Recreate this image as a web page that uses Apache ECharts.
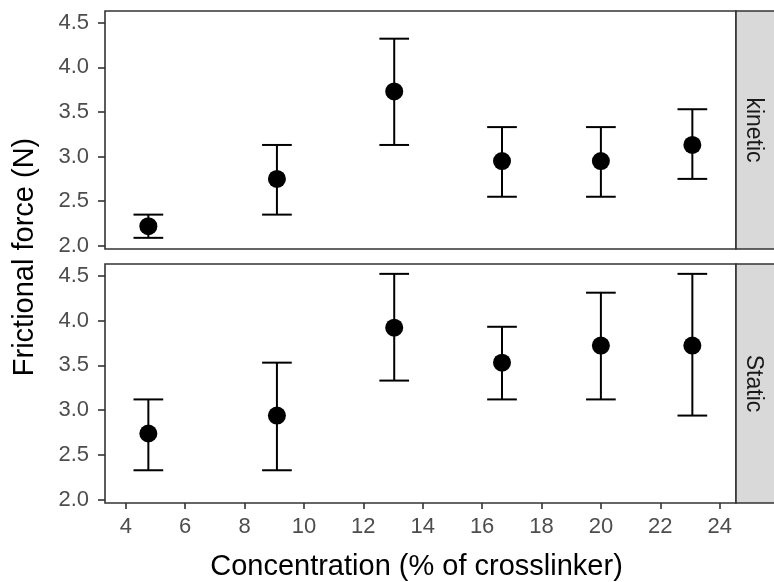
<!DOCTYPE html>
<html>
<head>
<meta charset="utf-8">
<script src="https://cdn.jsdelivr.net/npm/echarts@6/dist/echarts.min.js"></script>
<style>
html,body{margin:0;padding:0;background:#fff;}
#chart{width:774px;height:582px;}
</style>
</head>
<body>
<div id="chart"></div>
<script>
// ---- data ----
var concentration = [4.76, 9.09, 13.04, 16.67, 20.0, 23.08];
var kineticMean  = [2.22, 2.75, 3.73, 2.95, 2.95, 3.13];
var kineticLow   = [2.09, 2.35, 3.13, 2.55, 2.55, 2.75];
var kineticHigh  = [2.35, 3.13, 4.32, 3.33, 3.33, 3.53];
var staticMean   = [2.74, 2.94, 3.92, 3.53, 3.72, 3.72];
var staticLow    = [2.33, 2.33, 3.33, 3.12, 3.12, 2.94];
var staticHigh   = [3.12, 3.53, 4.52, 3.93, 4.31, 4.52];
var xTicks = [4, 6, 8, 10, 12, 14, 16, 18, 20, 22, 24];
var yTicks = [2.0, 2.5, 3.0, 3.5, 4.0, 4.5];
var facetLabels = ['kinetic', 'Static'];
var xTitle = 'Concentration (% of crosslinker)';
var yTitle = 'Frictional force (N)';

// ---- layout ----
var FONT = '"Liberation Sans", Arial, sans-serif';
var panels = [
  {top: 11, height: 238},
  {top: 264, height: 239}
];
var LEFT = 105, PW = 631;

var chart = echarts.init(document.getElementById('chart'));

function pts(xs, ys) { return xs.map(function (x, i) { return [x, ys[i]]; }); }
function bars(xs, lo, hi) { return xs.map(function (x, i) { return [x, lo[i], hi[i]]; }); }

var grids = [], xAxes = [], yAxes = [], series = [], graphics = [];
var means = [kineticMean, staticMean], lows = [kineticLow, staticLow], highs = [kineticHigh, staticHigh];

panels.forEach(function (p, k) {
  grids.push({left: LEFT, top: p.top, width: PW, height: p.height, show: true,
    borderColor: '#333333', borderWidth: 1.6, backgroundColor: '#ffffff', containLabel: false});
  xAxes.push({type: 'value', gridIndex: k, min: 3.3, max: 24.55,
    axisLine: {show: false}, splitLine: {show: false},
    axisTick: {show: k === 1, length: 6, lineStyle: {color: '#333333', width: 1.6}, customValues: xTicks},
    axisLabel: {show: k === 1, margin: 13, color: '#4D4D4D', fontSize: 22, fontFamily: FONT, customValues: xTicks}
  });
  yAxes.push({type: 'value', gridIndex: k, min: 1.965, max: 4.63,
    axisLine: {show: false}, splitLine: {show: false},
    axisTick: {show: true, length: 7, lineStyle: {color: '#333333', width: 1.6}, customValues: yTicks},
    axisLabel: {show: true, margin: 16, color: '#4D4D4D', fontSize: 22, fontFamily: FONT, customValues: yTicks,
      formatter: function (v) { return Number(v).toFixed(1); }}
  });
  series.push({
    type: 'custom', xAxisIndex: k, yAxisIndex: k, z: 2,
    data: bars(concentration, lows[k], highs[k]),
    renderItem: function (params, api) {
      var x = api.value(0), lo = api.value(1), hi = api.value(2);
      var pLo = api.coord([x, lo]), pHi = api.coord([x, hi]);
      var half = api.size([0.5, 0])[0];
      var st = {stroke: '#000', lineWidth: 2};
      return {type: 'group', children: [
        {type: 'line', shape: {x1: pLo[0], y1: pLo[1], x2: pHi[0], y2: pHi[1]}, style: st},
        {type: 'line', shape: {x1: pLo[0] - half, y1: pLo[1], x2: pLo[0] + half, y2: pLo[1]}, style: st},
        {type: 'line', shape: {x1: pHi[0] - half, y1: pHi[1], x2: pHi[0] + half, y2: pHi[1]}, style: st}
      ]};
    }
  });
  series.push({type: 'scatter', xAxisIndex: k, yAxisIndex: k, z: 3,
    symbol: 'circle', symbolSize: 18, itemStyle: {color: '#000', opacity: 1},
    data: pts(concentration, means[k])});
  // strip
  graphics.push({type: 'rect', z: 10,
    shape: {x: LEFT + PW, y: p.top, width: 50, height: p.height},
    style: {fill: '#D9D9D9', stroke: '#333333', lineWidth: 1.6}});
  graphics.push({type: 'text', z: 11,
    x: LEFT + PW + 17, y: p.top + p.height / 2, rotation: -Math.PI / 2,
    style: {text: facetLabels[k], fill: '#1A1A1A', font: '23px ' + FONT, align: 'center', verticalAlign: 'middle'}});
});

graphics.push({type: 'text', x: LEFT + PW / 2 - 4, y: 567,
  style: {text: xTitle, fill: '#000', font: '29px ' + FONT, align: 'center', verticalAlign: 'middle'}});
graphics.push({type: 'text', x: 25, y: 257, rotation: Math.PI / 2,
  style: {text: yTitle, fill: '#000', font: '29px ' + FONT, align: 'center', verticalAlign: 'middle'}});

chart.setOption({
  animation: false,
  backgroundColor: '#ffffff',
  grid: grids, xAxis: xAxes, yAxis: yAxes, series: series, graphic: graphics
});
</script>
</body>
</html>
